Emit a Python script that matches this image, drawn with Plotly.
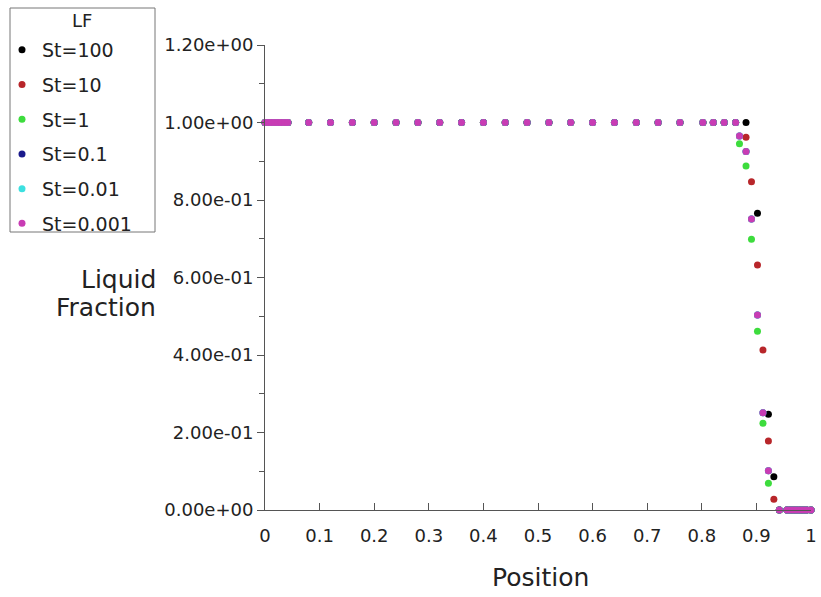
import plotly.graph_objects as go

W, H = 821, 597

# ---------------- data ----------------
PLATEAU_X = [0.000, 0.006, 0.012, 0.018, 0.024, 0.030, 0.036, 0.042,
             0.080, 0.120, 0.160, 0.200, 0.240, 0.280, 0.320, 0.360,
             0.400, 0.440, 0.480, 0.520, 0.560, 0.600, 0.640, 0.680,
             0.720, 0.760, 0.802, 0.821, 0.841, 0.862]
PLATEAU_Y = [1.0, 1.0, 1.0, 1.0, 1.0, 1.0, 1.0, 1.0,
             1.0, 1.0, 1.0, 1.0, 1.0, 1.0, 1.0, 1.0,
             1.0, 1.0, 1.0, 1.0, 1.0, 1.0, 1.0, 1.0,
             1.0, 1.0, 1.0, 1.0, 1.0, 1.0]

RIGHT_X = [0.942, 0.956, 0.962, 0.968, 0.974, 0.980, 0.986, 0.992, 1.000]
RIGHT_Y = [0.0, 0.0, 0.0, 0.0, 0.0, 0.0, 0.0, 0.0, 0.0]

ST100_FRONT_X = [0.881, 0.902, 0.922, 0.932]
ST100_FRONT_Y = [1.000, 0.766, 0.247, 0.086]

ST10_FRONT_X = [0.881, 0.891, 0.902, 0.912, 0.922, 0.932]
ST10_FRONT_Y = [0.962, 0.847, 0.632, 0.413, 0.178, 0.028]

ST1_FRONT_X = [0.869, 0.881, 0.891, 0.902, 0.912, 0.922]
ST1_FRONT_Y = [0.945, 0.888, 0.699, 0.461, 0.224, 0.069]

ST_SMALL_FRONT_X = [0.869, 0.881, 0.891, 0.902, 0.912, 0.922]
ST_SMALL_FRONT_Y = [0.965, 0.925, 0.751, 0.503, 0.251, 0.101]

SERIES_NAMES = ["St=100", "St=10", "St=1", "St=0.1", "St=0.01", "St=0.001"]
SERIES_COLORS = ["#000000", "#b8262a", "#3ddc3d", "#1a1a8c", "#3ce0e0", "#c83cb4"]
SERIES_FRONT_X = [ST100_FRONT_X, ST10_FRONT_X, ST1_FRONT_X,
                  ST_SMALL_FRONT_X, ST_SMALL_FRONT_X, ST_SMALL_FRONT_X]
SERIES_FRONT_Y = [ST100_FRONT_Y, ST10_FRONT_Y, ST1_FRONT_Y,
                  ST_SMALL_FRONT_Y, ST_SMALL_FRONT_Y, ST_SMALL_FRONT_Y]

X_TICKS = [0, 0.1, 0.2, 0.3, 0.4, 0.5, 0.6, 0.7, 0.8, 0.9, 1]
X_TICK_TEXT = ["0", "0.1", "0.2", "0.3", "0.4", "0.5", "0.6", "0.7", "0.8", "0.9", "1"]
Y_TICKS = [0, 0.2, 0.4, 0.6, 0.8, 1.0, 1.2]
Y_TICK_TEXT = ["0.00e+00", "2.00e-01", "4.00e-01", "6.00e-01",
               "8.00e-01", "1.00e+00", "1.20e+00"]

FONT = "DejaVu Sans, Verdana, sans-serif"
TXT = "#222222"
AXIS_COLOR = "#555555"

fig = go.Figure()
for name, color, fx, fy in zip(SERIES_NAMES, SERIES_COLORS, SERIES_FRONT_X, SERIES_FRONT_Y):
    fig.add_trace(go.Scatter(
        x=PLATEAU_X + fx + RIGHT_X,
        y=PLATEAU_Y + fy + RIGHT_Y,
        mode="markers",
        name=name,
        legendgroup=name,
        marker=dict(color=color, size=7, line=dict(width=0)),
        cliponaxis=False,
    ))

L, R, T, B = 265, 10, 45, 87
PW, PH = W - L - R, H - T - B


def px_x(px):
    return (px - L) / PW


def px_y(py):
    return (H - B - py) / PH


fig.update_layout(
    width=W, height=H,
    margin=dict(l=L, r=R, t=T, b=B, pad=0),
    paper_bgcolor="white",
    plot_bgcolor="white",
    font=dict(family=FONT, size=18, color=TXT),
    showlegend=True,
    legend=dict(
        xref="container", yref="container",
        x=2 / W, y=1 - 31 / H,
        xanchor="left", yanchor="top",
        borderwidth=0,
        bgcolor="rgba(0,0,0,0)",
        font=dict(family=FONT, size=19, color=TXT),
        tracegroupgap=7,
        itemwidth=30,
    ),
    xaxis=dict(
        range=[0, 1],
        automargin=False,
        tickvals=X_TICKS, ticktext=X_TICK_TEXT,
        ticks="inside", ticklen=7, tickcolor=AXIS_COLOR, tickwidth=1,
        ticklabelstandoff=9,
        showline=True, linecolor=AXIS_COLOR, linewidth=1,
        showgrid=False, zeroline=False,
        tickfont=dict(family=FONT, size=18, color=TXT),
    ),
    yaxis=dict(
        range=[0, 1.2],
        automargin=False,
        tickvals=Y_TICKS, ticktext=Y_TICK_TEXT,
        ticks="outside", ticklen=7, tickcolor=AXIS_COLOR, tickwidth=1,
        minor=dict(ticks="outside", ticklen=5, tickcolor=AXIS_COLOR, dtick=0.1, tick0=0),
        showline=True, linecolor=AXIS_COLOR, linewidth=1,
        showgrid=False, zeroline=False,
        tickfont=dict(family=FONT, size=18, color=TXT),
    ),
    shapes=[dict(
        type="rect", xref="paper", yref="paper",
        x0=px_x(10), x1=px_x(155), y0=px_y(232), y1=px_y(8),
        line=dict(color="#777777", width=1), fillcolor="rgba(0,0,0,0)",
        layer="above",
    )],
    annotations=[
        dict(text="LF", xref="paper", yref="paper", x=px_x(82), y=px_y(20),
             xanchor="center", yanchor="middle", showarrow=False,
             font=dict(family=FONT, size=18, color=TXT)),
        dict(text="Liquid", xref="paper", yref="paper", x=px_x(158), y=px_y(279),
             xanchor="right", yanchor="middle", showarrow=False,
             font=dict(family=FONT, size=25, color=TXT)),
        dict(text="Fraction", xref="paper", yref="paper", x=px_x(158), y=px_y(307),
             xanchor="right", yanchor="middle", showarrow=False,
             font=dict(family=FONT, size=25, color=TXT)),
        dict(text="Position", xref="paper", yref="paper", x=px_x(540), y=px_y(577),
             xanchor="center", yanchor="middle", showarrow=False,
             font=dict(family=FONT, size=25, color=TXT)),
    ],
)

fig.write_html("out.html")
